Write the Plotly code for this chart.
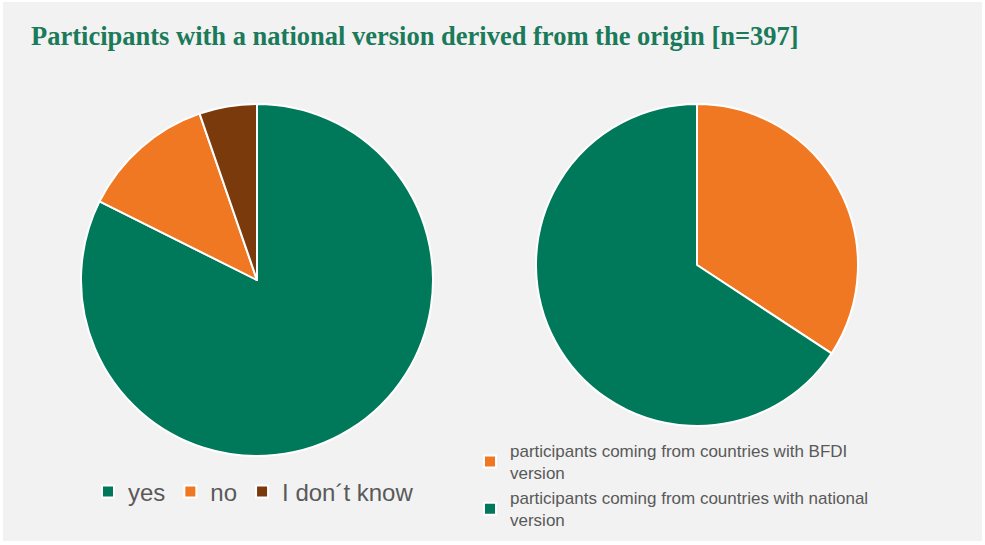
import plotly.graph_objects as go

W, H = 985, 545

title_text = "Participants with a national version derived from the origin [n=397]"

pie1_labels = ["yes", "no", "I don´t know"]
pie1_values = [327, 49, 21]
pie1_colors = ["#00795a", "#f07822", "#7a3a0c"]

pie2_labels = ["participants coming from countries with BFDI<br>version",
               "participants coming from countries with national<br>version"]
pie2_values = [136, 261]
pie2_colors = ["#f07822", "#00795a"]


def px_x(v):
    return v / W


def px_y(v):
    return 1 - v / H


fig = go.Figure()
fig.add_trace(go.Pie(
    labels=pie1_labels, values=pie1_values, sort=False, direction="clockwise",
    rotation=0, textinfo="none", hoverinfo="label+percent",
    marker=dict(colors=pie1_colors, line=dict(color="white", width=2)),
    domain=dict(x=[px_x(81), px_x(433)], y=[px_y(456), px_y(104)]),
    legend="legend",
))
fig.add_trace(go.Pie(
    labels=pie2_labels, values=pie2_values, sort=False, direction="clockwise",
    rotation=0, textinfo="none", hoverinfo="label+percent",
    marker=dict(colors=pie2_colors, line=dict(color="white", width=2)),
    domain=dict(x=[px_x(536), px_x(858)], y=[px_y(426), px_y(104)]),
    legend="legend2",
))

fig.update_layout(
    width=W, height=H,
    margin=dict(l=0, r=0, t=0, b=0),
    paper_bgcolor="white",
    plot_bgcolor="#f2f2f2",
    showlegend=True,
    legend=dict(
        orientation="h", x=px_x(88), y=px_y(492), xanchor="left", yanchor="middle",
        font=dict(family="Liberation Sans, Arial, sans-serif", size=24, color="#595959"),
        bgcolor="rgba(0,0,0,0)", itemclick=False, itemdoubleclick=False,
    ),
    legend2=dict(
        orientation="v", x=px_x(470), y=px_y(433), xanchor="left", yanchor="top",
        font=dict(family="Liberation Sans, Arial, sans-serif", size=17, color="#595959"),
        bgcolor="rgba(0,0,0,0)", tracegroupgap=0, itemclick=False, itemdoubleclick=False,
    ),
    shapes=[dict(type="rect", xref="paper", yref="paper", layer="below",
                 x0=px_x(3), x1=px_x(982), y0=px_y(541), y1=px_y(2),
                 fillcolor="#f2f2f2", line=dict(width=0))],
    annotations=[dict(
        text="<b>" + title_text + "</b>", xref="paper", yref="paper",
        x=px_x(29), y=px_y(36), xanchor="left", yanchor="middle", showarrow=False,
        font=dict(family="Liberation Serif, serif", size=26.5, color="#1a7a5a"),
    )],
)

fig.write_html("out.html")
